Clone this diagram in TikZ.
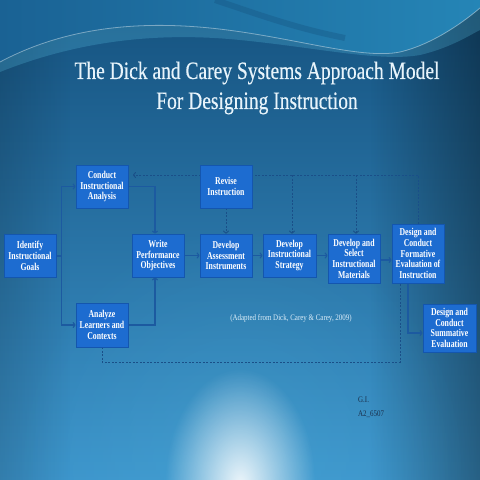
\documentclass[tikz,border=0pt]{standalone}
\usepackage{fontspec}
\setmainfont{Liberation Serif}
\newfontfamily\boxfont[FakeStretch=0.74]{Liberation Serif}
\newfontfamily\titlefont[FakeStretch=0.78,FakeBold=0.3]{Liberation Serif}
\newfontfamily\capfont[FakeStretch=0.82]{Liberation Serif}
\usetikzlibrary{arrows.meta,fadings,calc}
\definecolor{bgtop}{HTML}{15527F}
\definecolor{bgbot}{HTML}{3C94CB}
\definecolor{boxfill}{HTML}{1D6CD0}
\definecolor{boxline}{HTML}{1456AE}
\definecolor{linecol}{HTML}{1C5AA0}
\definecolor{dashcol}{HTML}{1A4F88}
\definecolor{titlecol}{HTML}{E8F4FB}
\definecolor{capcol}{HTML}{DCEEF9}
\definecolor{gicol}{HTML}{1A2E4A}
\definecolor{wavel}{HTML}{1A6294}
\definecolor{waver}{HTML}{2585B6}
\definecolor{wavecy}{HTML}{5CC4E6}
\tikzfading[name=darkright, left color=transparent!100, right color=transparent!0]
\tikzfading[name=darkleft, left color=transparent!0, right color=transparent!100]
\tikzfading[name=glowfade, inner color=transparent!0, outer color=transparent!100]
\pgfdeclarelayer{bg}
\pgfdeclarelayer{lines}
\pgfsetlayers{bg,lines,main}
\begin{document}
\begin{tikzpicture}[x=1pt,y=-1pt,
  stagebox/.style={draw=boxline, fill=boxfill, line width=0.8pt, text=white,
    font=\boxfont\bfseries\fontsize{10.5}{10.7}\selectfont, align=center,
    minimum width=52pt, minimum height=43pt, inner sep=0.5pt, text width=51pt,
    execute at begin node={\spaceskip=1.9pt\relax}},
  conn/.style={draw=linecol, line width=1.1pt, -{To[length=3pt,width=6pt]}},
  fbline/.style={draw=dashcol, line width=0.9pt, dash pattern=on 2pt off 1.5pt},
  fbarrow/.style={fbline, -{To[length=3pt,width=6pt]}}]
\useasboundingbox (0,0) rectangle (480,480);
\begin{pgfonlayer}{bg}
  \shade[top color=bgtop, bottom color=bgbot] (0,0) rectangle (480,480);
  \fill[black, fill opacity=0.35, path fading=darkright] (370,0) rectangle (480,480);
  \fill[black, fill opacity=0.15, path fading=darkleft] (0,0) rectangle (70,480);
  \fill[wavecy, fill opacity=0.22, path fading=glowfade] (240,470) ellipse [x radius=230, y radius=250];
  \fill[white, fill opacity=0.9, path fading=glowfade] (240,484) ellipse [x radius=75, y radius=115];
  % top wave
  \shade[left color=wavel, right color=waver] (0,0) -- (480,0) -- (480,8) .. controls (460,25) and (430,45) .. (400,52) .. controls (360,60) and (290,36) .. (210,28) .. controls (130,20) and (60,30) .. (0,62) -- cycle;
  \draw[bgtop, line width=6pt, opacity=0.35] (215,0) .. controls (260,15) and (295,28) .. (345,38);
  \fill[wavecy, fill opacity=0.25] (0,62) .. controls (60,30) and (130,20) .. (210,28) .. controls (290,36) and (360,60) .. (400,52) .. controls (430,45) and (460,25) .. (480,8) -- (480,30) .. controls (470,35) and (450,48) .. (420,55) .. controls (380,62) and (320,48) .. (240,40) .. controls (160,32) and (80,40) .. (0,72) -- cycle;
  \draw[white, line width=0.8pt, opacity=0.4] (0,62) .. controls (60,30) and (130,20) .. (210,28) .. controls (290,36) and (360,60) .. (400,52) .. controls (430,45) and (460,25) .. (480,8);
\end{pgfonlayer}

% title
\node[text=titlecol, font=\titlefont\fontsize{25}{30}\selectfont, align=center] (title) at (257,88) {The Dick and Carey Systems Approach Model\\For Designing Instruction};

% stages
\node[stagebox, minimum width=51pt] (ident) at (30,256) {Identify\\Instructional\\Goals};
\node[stagebox] (conduct) at (102,186.5) {Conduct\\Instructional\\Analysis};
\node[stagebox, minimum height=44pt] (analyze) at (102,325) {Analyze\\Learners and\\Contexts};
\node[stagebox] (write) at (158,255.5) {Write\\Performance\\Objectives};
\node[stagebox] (revise) at (226,186.5) {Revise\\Instruction};
\node[stagebox] (assess) at (226,255.5) {Develop\\Assessment\\Instruments};
\node[stagebox, minimum width=53pt] (strategy) at (289.5,255.5) {Develop\\Instructional\\Strategy};
\node[stagebox, minimum height=49pt] (materials) at (354,258.5) {Develop and\\Select\\Instructional\\Materials};
\node[stagebox, minimum height=59pt] (formative) at (418,253.5) {Design and\\Conduct\\Formative\\Evaluation of\\Instruction};
\node[stagebox, minimum width=53pt, minimum height=48pt] (summative) at (449.5,328) {Design and\\Conduct\\Summative\\Evaluation};

\node[text=capcol, font=\capfont\fontsize{8.5}{10}\selectfont] (caption) at (291,318) {(Adapted from Dick, Carey \& Carey, 2009)};
\node[text=gicol, font=\capfont\fontsize{8.5}{14}\selectfont, align=left, anchor=north west, inner sep=0pt] (gi) at (358,397) {G.I.\\A2\_6507};

\coordinate (split) at (61.5,256);
\coordinate (tr) at (418,175);
\coordinate (tl) at (133,175);
\coordinate (br) at (400,362);

\begin{pgfonlayer}{lines}
  \draw[conn] (ident.east) -- (split) |- (conduct.west);
  \draw[conn] (split) |- (analyze.west);
  \draw[conn] (conduct.east) -| ([xshift=-3pt]write.north);
  \draw[conn] (analyze.east) -| ([xshift=-3pt]write.south);
  \draw[conn] (write.east) -- (assess.west);
  \draw[conn] (assess.east) -- (strategy.west);
  \draw[conn] (strategy.east) -- (strategy.east -| materials.west);
  \draw[conn] ([yshift=-1.5pt]materials.east) -- ([yshift=-1.5pt]materials.east -| formative.west);
  \draw[conn] ([xshift=-10pt]formative.south) |- ([yshift=-5pt]summative.west);
  % feedback
  \draw[fbarrow] (formative.north) -- (tr) -- (tl);
  \draw[fbarrow] (revise.south) -- (assess.north);
  \draw[fbarrow] ([xshift=2.5pt]tr -| strategy.north) -- ([xshift=2.5pt]strategy.north);
  \draw[fbarrow] ([xshift=2pt]tr -| materials.north) -- ([xshift=2pt]materials.north);
  \draw[fbline] (analyze.south) -- (analyze.south |- br) -- (br) -- (br |- formative.south);
\end{pgfonlayer}
\end{tikzpicture}
\end{document}
